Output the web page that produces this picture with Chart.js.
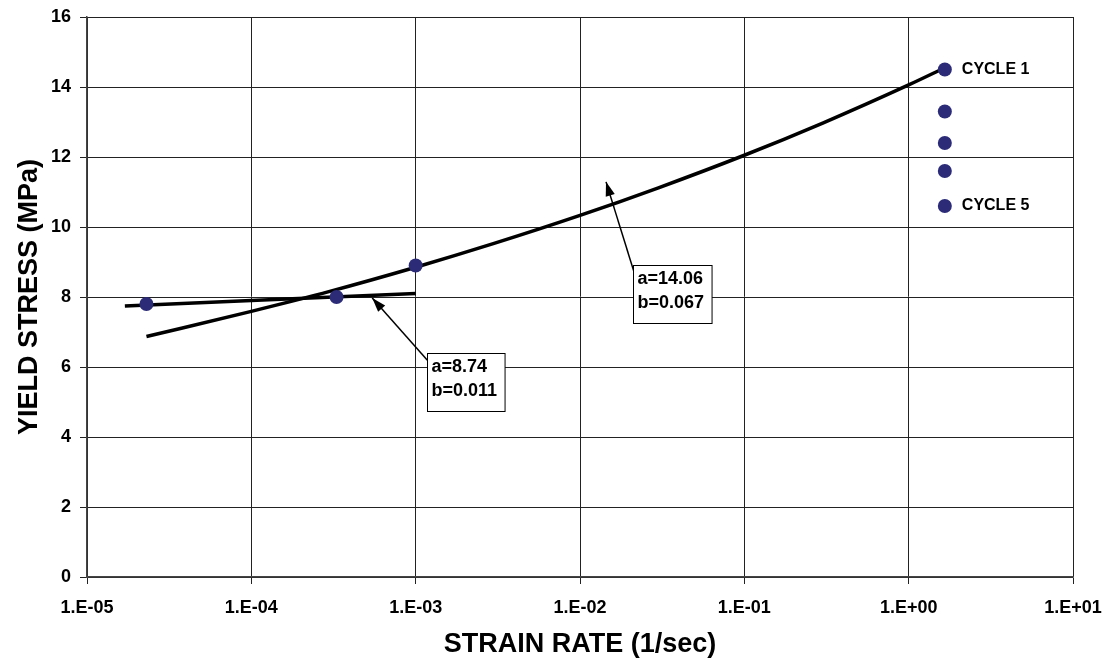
<!DOCTYPE html>
<html>
<head>
<meta charset="utf-8">
<script src="https://cdn.jsdelivr.net/npm/chart.js@4"></script>
<style>
  html, body { margin: 0; padding: 0; background: #fff; }
  #wrap { width: 1109px; height: 661px; }
</style>
</head>
<body>
<div id="wrap"><canvas id="c" width="1109" height="661"></canvas></div>
<script>
// ---- data ----
const measuredRate   = [2.3e-5, 3.3e-4, 1.0e-3, 1.66, 1.66, 1.66, 1.66, 1.66];
const measuredStress = [7.8, 8.0, 8.9, 14.5, 13.3, 12.4, 11.6, 10.6];

// fit a=8.74, b=0.011
const fit1Rate   = [1.7e-5, 1.0e-4, 1.0e-3];
const fit1Stress = [7.74, 7.90, 8.10];

// fit a=14.06, b=0.067
const fit2Rate   = [2.3e-5, 1e-4, 3e-4, 1e-3, 3e-3, 1e-2, 3e-2, 1e-1, 3e-1, 1.0, 1.66];
const fit2Stress = [6.87, 7.59, 8.16, 8.85, 9.53, 10.33, 11.12, 12.05, 12.97, 14.06, 14.55];

const xTickValues = [1e-5, 1e-4, 1e-3, 1e-2, 1e-1, 1e0, 1e1];
const yTickValues = [0, 2, 4, 6, 8, 10, 12, 14, 16];

const fitLabels = [
  { lines: ['a=14.06', 'b=0.067'], boxX: 0.0210, boxY: 8.91, tipX: 0.0144, tipY: 11.29 },
  { lines: ['a=8.74', 'b=0.011'],  boxX: 1.175e-3, boxY: 6.40, tipX: 5.44e-4, tipY: 7.97 }
];
const cycleLabels = [
  { text: 'CYCLE 1', x: 1.66, y: 14.5 },
  { text: 'CYCLE 5', x: 1.66, y: 10.6 }
];

const FONT = '"Liberation Sans", Arial, sans-serif';
const toXY = (xs, ys) => xs.map((x, i) => ({ x, y: ys[i] }));

function fmtSci(v) {
  const e = Math.round(Math.log10(v));
  const s = e < 0 ? '-' : '+';
  return '1.E' + s + String(Math.abs(e)).padStart(2, '0');
}

const annotPlugin = {
  id: 'annot',
  afterDatasetsDraw(chart) {
    const { ctx, scales: { x, y } } = chart;
    ctx.save();
    ctx.font = 'bold 18px ' + FONT;
    fitLabels.forEach(a => {
      const bx = Math.round(x.getPixelForValue(a.boxX)) + 0.5;
      const by = Math.round(y.getPixelForValue(a.boxY)) + 0.5;
      const w = Math.max(...a.lines.map(l => ctx.measureText(l).width)) + 12;
      const h = 58;
      const tx = x.getPixelForValue(a.tipX), ty = y.getPixelForValue(a.tipY);
      const sx = bx + 1, sy = by + 8;
      ctx.strokeStyle = '#000'; ctx.lineWidth = 1.5;
      ctx.beginPath(); ctx.moveTo(sx, sy); ctx.lineTo(tx, ty); ctx.stroke();
      const ang = Math.atan2(ty - sy, tx - sx);
      const L = 15, W = 0.32;
      ctx.fillStyle = '#000';
      ctx.beginPath();
      ctx.moveTo(tx, ty);
      ctx.lineTo(tx - L * Math.cos(ang - W), ty - L * Math.sin(ang - W));
      ctx.lineTo(tx - L * Math.cos(ang + W), ty - L * Math.sin(ang + W));
      ctx.closePath(); ctx.fill();
      ctx.fillStyle = '#fff';
      ctx.fillRect(bx, by, w, h);
      ctx.strokeStyle = '#000'; ctx.lineWidth = 1;
      ctx.strokeRect(bx, by, w, h);
      ctx.fillStyle = '#000';
      ctx.textBaseline = 'middle'; ctx.textAlign = 'left';
      a.lines.forEach((l, i) => ctx.fillText(l, bx + 4, by + 14 + i * 24));
    });
    ctx.font = 'bold 16px ' + FONT;
    ctx.fillStyle = '#000';
    ctx.textBaseline = 'middle'; ctx.textAlign = 'left';
    cycleLabels.forEach(c => {
      ctx.fillText(c.text, x.getPixelForValue(c.x) + 17, y.getPixelForValue(c.y));
    });
    ctx.restore();
  }
};

new Chart(document.getElementById('c'), {
  type: 'scatter',
  data: {
    datasets: [
      {
        label: 'fit1', data: toXY(fit1Rate, fit1Stress), showLine: true,
        borderColor: '#000', borderWidth: 3.5, pointRadius: 0, fill: false, order: 2
      },
      {
        label: 'fit2', data: toXY(fit2Rate, fit2Stress), showLine: true,
        borderColor: '#000', borderWidth: 3.5, pointRadius: 0, fill: false,
        cubicInterpolationMode: 'monotone', order: 2
      },
      {
        label: 'measured', data: toXY(measuredRate, measuredStress),
        backgroundColor: '#2b2b78', borderColor: '#2b2b78', pointRadius: 7,
        pointBorderWidth: 0, order: 1
      }
    ]
  },
  plugins: [annotPlugin],
  options: {
    responsive: false,
    animation: false,
    events: [],
    layout: { padding: { top: 17, right: 36, left: 0, bottom: 0 } },
    plugins: { legend: { display: false }, tooltip: { enabled: false } },
    scales: {
      x: {
        type: 'logarithmic', min: 1e-5, max: 10,
        afterBuildTicks: s => { s.ticks = xTickValues.map(v => ({ value: v })); },
        afterFit: s => { s.height = 84; s.paddingLeft = 0; s.paddingRight = 0; },
        ticks: {
          callback: v => fmtSci(v), autoSkip: false, maxRotation: 0,
          color: '#000', font: { family: FONT, size: 18, weight: 'bold' }, padding: 13
        },
        grid: { color: '#222', lineWidth: 1, tickLength: 7, tickColor: '#222' },
        border: { color: '#444', width: 1.5 },
        title: {
          display: true, text: 'STRAIN RATE (1/sec)', color: '#000',
          font: { family: FONT, size: 27, weight: 'bold' }, padding: { top: 0, bottom: 0 }
        }
      },
      y: {
        min: 0, max: 16,
        afterBuildTicks: s => { s.ticks = yTickValues.map(v => ({ value: v })); },
        afterFit: s => { s.width = 87; s.paddingTop = 0; s.paddingBottom = 0; },
        ticks: {
          color: '#000', font: { family: FONT, size: 18, weight: 'bold' }, padding: 9
        },
        grid: { color: '#222', lineWidth: 1, tickLength: 7, tickColor: '#222' },
        border: { color: '#444', width: 1.5 },
        title: {
          display: true, text: 'YIELD STRESS (MPa)', color: '#000',
          font: { family: FONT, size: 27, weight: 'bold' }, padding: { top: 13, bottom: 0 }
        }
      }
    }
  }
});
</script>
</body>
</html>
